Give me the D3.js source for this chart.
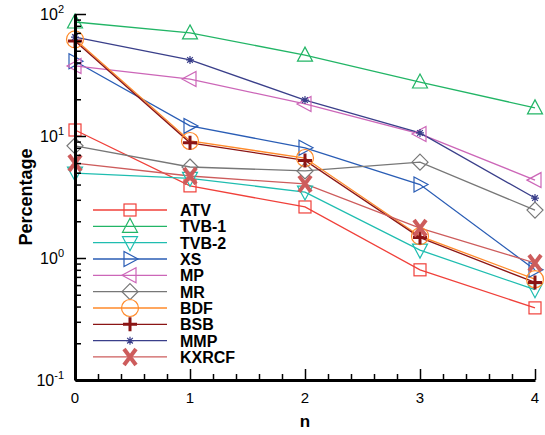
<!DOCTYPE html>
<html>
<head>
<meta charset="utf-8">
<script src="https://cdn.jsdelivr.net/npm/d3@7"></script>
<style>
  body { margin: 0; background: #fff; }
  svg { font-family: "Liberation Sans", Arial, sans-serif; }
</style>
</head>
<body>
<svg id="chart" width="545" height="435"></svg>
<script>
// data
const nValues = [0, 1, 2, 3, 4];
const seriesNames = ['ATV', 'TVB-1', 'TVB-2', 'XS', 'MP', 'MR', 'BDF', 'BSB', 'MMP', 'KXRCF'];
const atv   = [11.2, 3.9, 2.62, 0.80, 0.39];
const tvb1  = [86, 70, 46, 27.7, 17];
const tvb2  = [4.97, 4.5, 3.47, 1.16, 0.55];
const xs    = [41, 12.1, 8.0, 4.0, 0.8];
const mp    = [37.5, 29.3, 18.3, 10.4, 4.35];
const mr    = [8.3, 5.57, 5.17, 6.1, 2.47];
const bdf   = [62, 9.1, 6.6, 1.51, 0.67];
const bsb   = [60, 8.8, 6.3, 1.47, 0.63];
const mmp   = [64.7, 42, 19.7, 10.6, 3.1];
const kxrcf = [6.0, 4.7, 4.05, 1.76, 0.91];
const yTicks = [0.1, 1, 10, 100];

const series = [
  { name: 'ATV',   values: atv,   color: '#f0403a', marker: 'square' },
  { name: 'TVB-1', values: tvb1,  color: '#22b566', marker: 'up' },
  { name: 'TVB-2', values: tvb2,  color: '#1fbdb0', marker: 'down' },
  { name: 'XS',    values: xs,    color: '#2a5db5', marker: 'right' },
  { name: 'MP',    values: mp,    color: '#cc66b8', marker: 'left' },
  { name: 'MR',    values: mr,    color: '#777777', marker: 'diamond' },
  { name: 'BDF',   values: bdf,   color: '#ff8a2a', marker: 'circle' },
  { name: 'BSB',   values: bsb,   color: '#8b1515', marker: 'plus' },
  { name: 'MMP',   values: mmp,   color: '#3a3f8a', marker: 'star' },
  { name: 'KXRCF', values: kxrcf, color: '#cd5c5c', marker: 'x' }
];

const svg = d3.select('#chart');
const x = d3.scaleLinear().domain([0, 4]).range([75, 535]);
const y = d3.scaleLog().domain([0.1, 100]).range([380, 14]);

// draw a marker at (cx, cy)
function marker(g, type, cx, cy, color) {
  const s = 7;
  if (type === 'square') {
    g.append('rect').attr('x', cx - 6).attr('y', cy - 6).attr('width', 12).attr('height', 12)
      .attr('fill', 'none').attr('stroke', color).attr('stroke-width', 1.2);
  } else if (type === 'circle') {
    g.append('circle').attr('cx', cx).attr('cy', cy).attr('r', 8.5)
      .attr('fill', 'none').attr('stroke', color).attr('stroke-width', 1.2);
  } else if (type === 'diamond') {
    g.append('path').attr('d', `M${cx},${cy - 8}L${cx + 8},${cy}L${cx},${cy + 8}L${cx - 8},${cy}Z`)
      .attr('fill', 'none').attr('stroke', color).attr('stroke-width', 1.2);
  } else if (type === 'up' || type === 'down' || type === 'left' || type === 'right') {
    let pts;
    if (type === 'up') pts = [[cx, cy - 8], [cx + 7.5, cy + 6], [cx - 7.5, cy + 6]];
    if (type === 'down') pts = [[cx, cy + 8], [cx + 7.5, cy - 6], [cx - 7.5, cy - 6]];
    if (type === 'right') pts = [[cx + 8, cy], [cx - 6, cy + 7.5], [cx - 6, cy - 7.5]];
    if (type === 'left') pts = [[cx - 8, cy], [cx + 6, cy + 7.5], [cx + 6, cy - 7.5]];
    g.append('path').attr('d', 'M' + pts.join('L') + 'Z')
      .attr('fill', 'none').attr('stroke', color).attr('stroke-width', 1.2);
  } else if (type === 'plus') {
    g.append('path').attr('d', `M${cx - s},${cy}H${cx + s}M${cx},${cy - s}V${cy + s}`)
      .attr('stroke', color).attr('stroke-width', 3);
  } else if (type === 'star') {
    const r = 4;
    let d = '';
    for (let k = 0; k < 4; k++) {
      const a = k * Math.PI / 4;
      d += `M${cx - r * Math.cos(a)},${cy - r * Math.sin(a)}L${cx + r * Math.cos(a)},${cy + r * Math.sin(a)}`;
    }
    g.append('path').attr('d', d).attr('stroke', color).attr('stroke-width', 1.2);
  } else if (type === 'x') {
    g.append('path').attr('d', `M${cx - 6},${cy - 8}L${cx + 6},${cy + 8}M${cx + 6},${cy - 8}L${cx - 6},${cy + 8}`)
      .attr('stroke', color).attr('stroke-width', 4);
  }
}

// lines
const line = d3.line().x((d, i) => x(nValues[i])).y(d => y(d));
const plot = svg.append('g');
series.forEach(s => {
  plot.append('path').datum(s.values).attr('d', line)
    .attr('fill', 'none').attr('stroke', s.color).attr('stroke-width', 1.3);
});
series.forEach(s => {
  const g = plot.append('g');
  s.values.forEach((v, i) => marker(g, s.marker, x(nValues[i]), y(v), s.color));
});

// x axis
const xAxis = svg.append('g').attr('transform', 'translate(0,380)');
xAxis.call(d3.axisBottom(x).tickValues(d3.range(0, 4.01, 0.2)).tickFormat('').tickSizeInner(-6).tickSizeOuter(0));
xAxis.call(g => g.selectAll('.tick').filter(d => Math.abs(d - Math.round(d)) < 1e-6).select('line').attr('y2', -11));
xAxis.select('.domain').attr('stroke-width', 3);
xAxis.selectAll('.tick line').attr('stroke-width', 1.5);
svg.append('g').selectAll('text').data(nValues).join('text')
  .attr('x', d => x(d)).attr('y', 403).attr('text-anchor', 'middle')
  .attr('font-size', 15).text(d => d);

// y axis
const minor = [];
for (let e = -1; e < 2; e++) for (let k = 2; k < 10; k++) minor.push(k * Math.pow(10, e));
const yAxis = svg.append('g').attr('transform', 'translate(75,0)');
yAxis.call(d3.axisLeft(y).tickValues(minor.concat(yTicks)).tickFormat('').tickSizeInner(-6).tickSizeOuter(0));
yAxis.call(g => g.selectAll('.tick').filter(d => yTicks.includes(d)).select('line').attr('x2', 11));
yAxis.select('.domain').attr('stroke-width', 3);
yAxis.selectAll('.tick line').attr('stroke-width', 1.5);
const yl = svg.append('g').selectAll('text').data(yTicks).join('text')
  .attr('x', 64).attr('y', d => y(d) + 6).attr('text-anchor', 'end').attr('font-size', 16);
yl.append('tspan').text('10');
yl.append('tspan').attr('dy', -7).attr('font-size', 11).text(d => Math.round(Math.log10(d)));

// axis titles
svg.append('text').attr('x', 305).attr('y', 427).attr('text-anchor', 'middle')
  .attr('font-size', 17).attr('font-weight', 'bold').text('n');
svg.append('text').attr('transform', 'translate(32,197) rotate(-90)').attr('text-anchor', 'middle')
  .attr('font-size', 18).attr('font-weight', 'bold').text('Percentage');

// legend
const legend = svg.append('g');
seriesNames.forEach((name, i) => {
  const s = series.find(d => d.name === name);
  const ly = 210 + i * 16.33;
  legend.append('line').attr('x1', 93).attr('x2', 167).attr('y1', ly).attr('y2', ly)
    .attr('stroke', s.color).attr('stroke-width', 1.3);
  marker(legend, s.marker, 130, ly, s.color);
  legend.append('text').attr('x', 180).attr('y', ly + 6).attr('font-size', 16)
    .attr('font-weight', 'bold').text(name);
});
</script>
</body>
</html>
